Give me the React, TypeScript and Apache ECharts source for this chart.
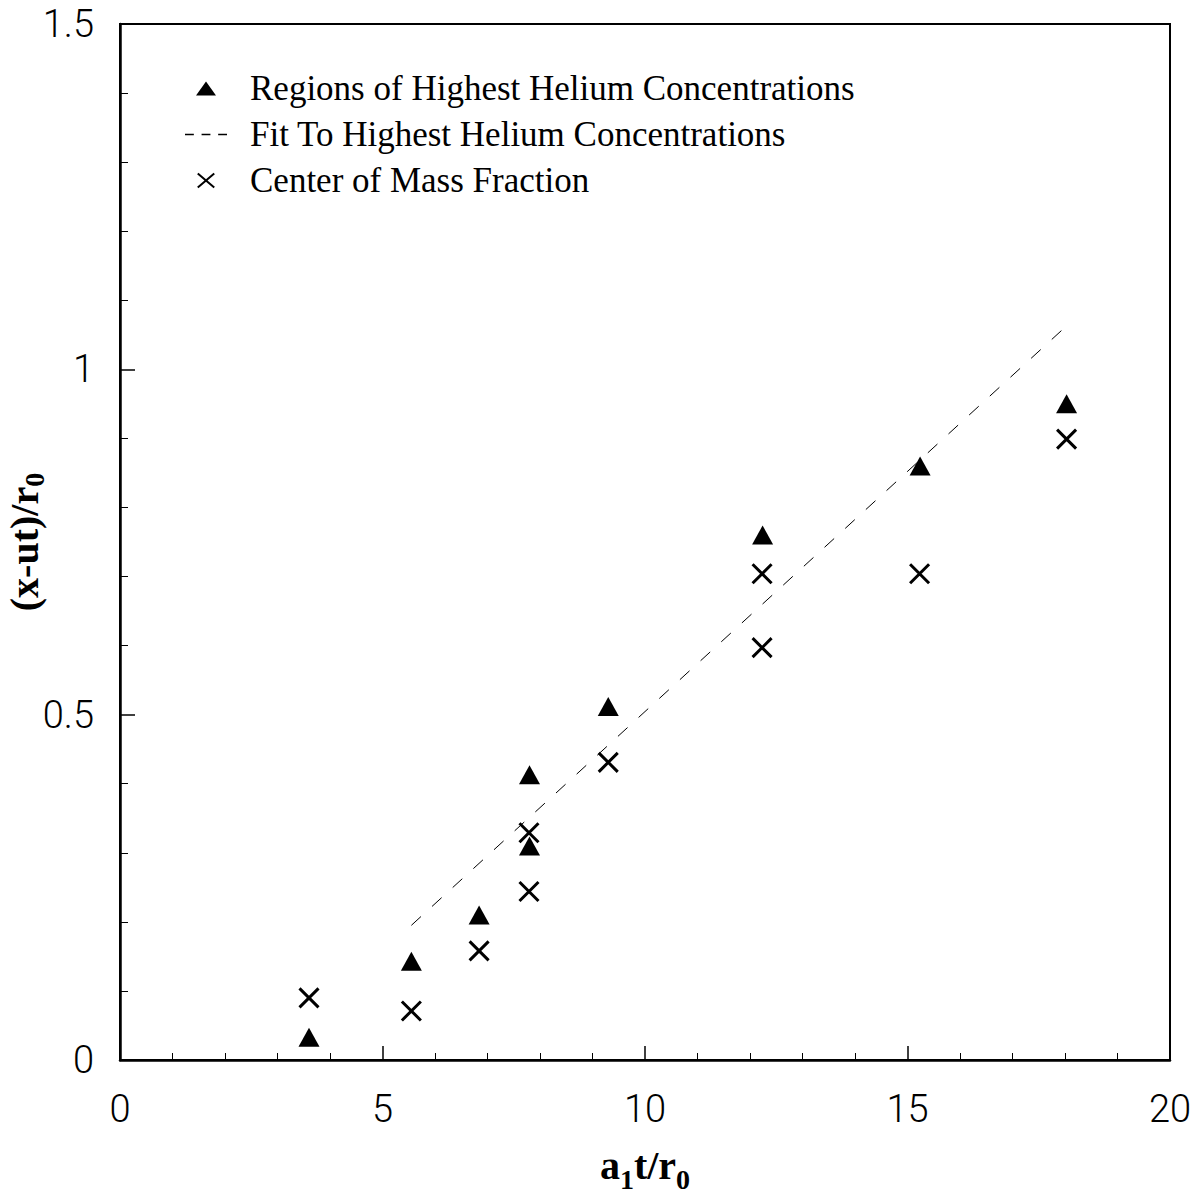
import React, { useEffect, useRef } from "react";
import * as echarts from "echarts";

// Regions of Highest Helium Concentrations (triangles)
const heliumX = [3.6, 5.55, 6.84, 7.8, 7.8, 9.3, 12.24, 15.24, 18.03];
const heliumY = [0.033, 0.143, 0.21, 0.413, 0.31, 0.512, 0.76, 0.86, 0.95];

// Fit To Highest Helium Concentrations (dashed line endpoints)
const fitX = [5.55, 18.06];
const fitY = [0.195, 1.065];

// Center of Mass Fraction (crosses)
const comX = [3.6, 5.55, 6.84, 7.79, 7.79, 9.3, 12.23, 12.23, 15.23, 18.03];
const comY = [0.09, 0.071, 0.158, 0.329, 0.244, 0.431, 0.704, 0.597, 0.704, 0.899];

const seriesNames = [
  "Regions of Highest Helium Concentrations",
  "Fit To Highest Helium Concentrations",
  "Center of Mass Fraction",
];

const xName = "{m|a}{s|1}{m|t/r}{s|0}";
const yName = "{m|(x-ut)/r}{s|0}";

const SERIF = "'Liberation Serif', 'Times New Roman', serif";
const SANS = "Roboto, 'Liberation Sans', Arial, sans-serif";

export default function App() {
  const ref = useRef<HTMLDivElement>(null);
  useEffect(() => {
    document.body.style.margin = "0";
    if (!ref.current) return;
    const chart = echarts.init(ref.current, undefined, { renderer: "svg" });
    const zip = (xs: number[], ys: number[]) => xs.map((x, i) => [x, ys[i]]);
    // subscript: a taller token aligned to the line bottom pushes the small text down
    const nameRich = (main: number, sub: number, subLine: number) => ({
      m: { fontSize: main, fontFamily: SERIF, fontWeight: "bold", color: "#000", lineHeight: main, verticalAlign: "top" },
      s: { fontSize: sub, fontFamily: SERIF, fontWeight: "bold", color: "#000", lineHeight: subLine, verticalAlign: "bottom" },
    });
    chart.setOption({
      animation: false,
      backgroundColor: "#fff",
      grid: {
        left: 120, right: 32, top: 24, bottom: 139,
        containLabel: false, outerBoundsMode: "none",
        show: true, borderColor: "#000", borderWidth: 2,
      },
      legend: {
        orient: "vertical",
        left: 180,
        top: 66,
        itemWidth: 42,
        itemHeight: 14,
        itemGap: 11,
        selectedMode: false,
        textStyle: { fontFamily: SERIF, fontSize: 35, color: "#000", lineHeight: 35, padding: [0, 0, 0, 18] },
        data: [
          { name: seriesNames[0], icon: "path://M10,0L20,14L0,14Z" },
          { name: seriesNames[1], icon: "path://M0,0h8v1.5h-8zM15,0h8v1.5h-8zM30,0h8v1.5h-8z" },
          { name: seriesNames[2], icon: "path://M0,0L20,17M20,0L0,17" },
        ],
      },
      xAxis: {
        type: "value",
        min: 0,
        max: 20,
        interval: 5,
        name: xName,
        nameLocation: "middle",
        nameGap: 85,
        nameMoveOverlap: false,
        nameTextStyle: { rich: nameRich(40, 28, 48) },
        axisLine: { show: true, lineStyle: { color: "#000", width: 2.5 } },
        axisTick: { show: true, inside: true, length: 14, lineStyle: { color: "#000", width: 1.5 } },
        minorTick: { show: true, splitNumber: 5, length: 7, lineStyle: { color: "#000", width: 1 } },
        splitLine: { show: false },
        minorSplitLine: { show: false },
        axisLabel: { color: "#000", fontFamily: SANS, fontWeight: 300, fontSize: 38, margin: 30 },
      },
      yAxis: {
        type: "value",
        min: 0,
        max: 1.5,
        interval: 0.5,
        name: yName,
        nameLocation: "middle",
        nameGap: 72,
        nameMoveOverlap: false,
        nameTextStyle: { rich: nameRich(40, 28, 44) },
        axisLine: { show: true, lineStyle: { color: "#000", width: 2.5 } },
        axisTick: { show: true, inside: true, length: 15, lineStyle: { color: "#000", width: 1.5 } },
        minorTick: { show: true, splitNumber: 5, length: 8, lineStyle: { color: "#000", width: 1 } },
        splitLine: { show: false },
        minorSplitLine: { show: false },
        axisLabel: { color: "#000", fontFamily: SANS, fontWeight: 300, fontSize: 38, margin: 26 },
      },
      series: [
        {
          name: seriesNames[0],
          type: "scatter",
          symbol: "triangle",
          symbolSize: [21, 19],
          itemStyle: { color: "#000", opacity: 1 },
          data: zip(heliumX, heliumY),
          z: 3,
        },
        {
          name: seriesNames[1],
          type: "line",
          symbol: "none",
          color: "#000",
          lineStyle: { color: "#000", width: 1, type: [13, 15], opacity: 1 },
          data: zip(fitX, fitY),
          z: 2,
        },
        {
          name: seriesNames[2],
          type: "scatter",
          symbol: "path://M0,0L20,20M20,0L0,20",
          symbolSize: 19,
          itemStyle: { color: "none", borderColor: "#000", borderWidth: 3, opacity: 1 },
          data: zip(comX, comY),
          z: 4,
        },
      ],
    });
    return () => chart.dispose();
  }, []);
  return <div ref={ref} style={{ width: 1202, height: 1199 }} />;
}
